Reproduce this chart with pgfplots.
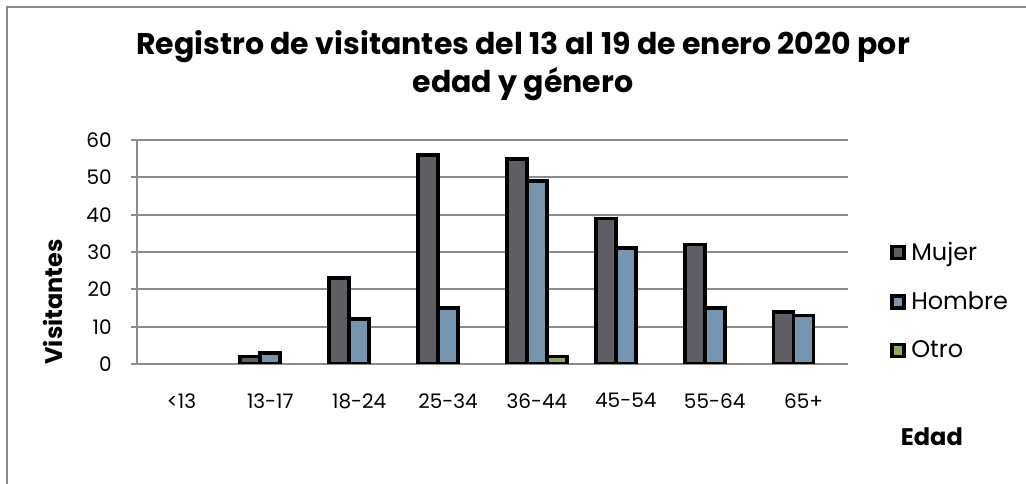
\documentclass[border=0pt]{standalone}
\usepackage{fontspec}
\setmainfont{Poppins}
\usepackage{pgfplots}
\pgfplotsset{compat=1.18}
\definecolor{mujer}{HTML}{5F5E64}
\definecolor{hombre}{HTML}{7596AE}
\definecolor{otro}{HTML}{8FA860}
\definecolor{gridc}{HTML}{8C8C8C}
\begin{document}
\begin{tikzpicture}[x=0.75pt,y=-0.75pt]
\useasboundingbox (0,0) rectangle (1026,484);
\draw[gridc, line width=1.5pt] (7,500) -- (7,7) -- (1040,7);
\node[font=\bfseries\fontsize{22.5}{28.5}\selectfont, align=center] at (523,66)
  {Registro de visitantes del 13 al 19 de enero 2020 por\\edad y género};
\coordinate (O) at (137,364);
\begin{axis}[
  at={(O)}, anchor=south west,
  scale only axis, width=533.25pt, height=168pt,
  ybar=0pt, bar width=15pt,
  xmin=-0.5, xmax=7.5, ymin=0, ymax=60,
  ytick={0,10,20,30,40,50,60},
  xtick={0,1,2,3,4,5,6,7},
  xticklabels={<13,13-17,18-24,25-34,36-44,45-54,55-64,65+},
  axis lines*=left,
  axis line style={gridc, line width=1.5pt},
  ymajorgrids, grid style={gridc, line width=1.5pt},
  tick align=outside, major tick length=4.5pt,
  ytick style={gridc, line width=1.5pt},
  xtick style={draw=none},
  /pgf/number format/assume math mode=true,
  ticklabel style={font=\fontsize{15}{17}\selectfont},
  yticklabel style={xshift=-11pt},
  xticklabel style={yshift=-14pt},
  xlabel={Edad}, ylabel={Visitantes},
  every axis x label/.style={at={(axis description cs:1.118,-0.326)}, anchor=center,
    font=\bfseries\fontsize{18}{20}\selectfont},
  every axis y label/.style={at={(axis description cs:-0.118,0.277)}, anchor=center, rotate=90,
    font=\bfseries\fontsize{18}{20}\selectfont},
  legend style={at={(axis description cs:1.059,0.281)}, anchor=west, draw=none,
    font=\fontsize{18}{20}\selectfont, row sep=18pt, inner sep=0pt,
    nodes={inner xsep=4pt}},
  legend cell align=left,
  legend image code/.code={\draw[#1, line width=2.8pt] (0pt,-4.5pt) rectangle (9pt,4.5pt);},
  every axis plot/.append style={draw=black, line width=2.8pt},
]
\addplot[fill=mujer] coordinates {(1,2) (2,23) (3,56) (4,55) (5,39) (6,32) (7,14)};
\addplot[fill=hombre] coordinates {(1,3) (2,12) (3,15) (4,49) (5,31) (6,15) (7,13)};
\addplot[fill=otro] coordinates {(4,2)};
\legend{Mujer,Hombre,Otro}
\end{axis}
\end{tikzpicture}
\end{document}
